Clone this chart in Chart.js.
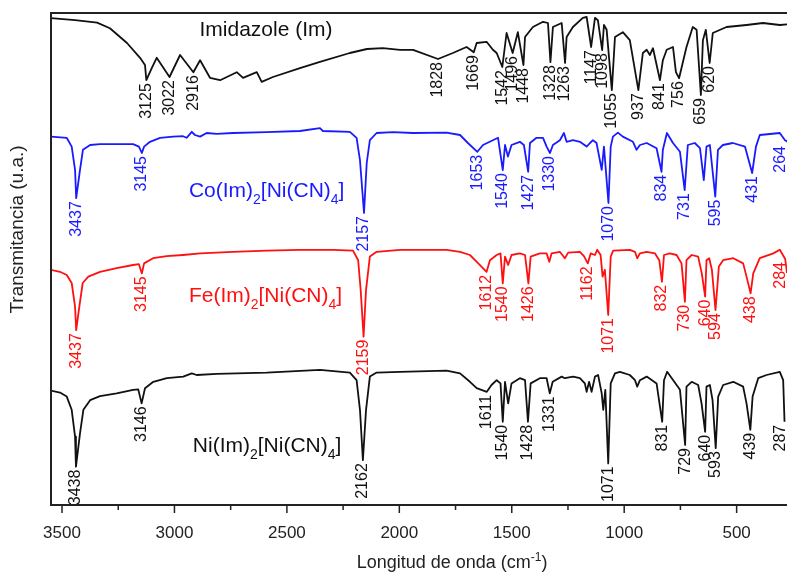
<!DOCTYPE html>
<html>
<head>
<meta charset="utf-8">
<title>FTIR</title>
<script src="https://cdn.jsdelivr.net/npm/chart.js@4.4.1/dist/chart.umd.min.js"></script>
<style>
  html, body { margin: 0; padding: 0; background: #fff; }
  #wrap { width: 787px; height: 572px; }
</style>
</head>
<body>
<div id="wrap"><canvas id="ir" width="787" height="572"></canvas></div>
<script>
// FTIR spectra: imidazole and the three M(Im)2[Ni(CN)4] compounds, stacked with offsets.
// Each trace is [wavenumber cm-1, transmittance a.u.]; the *Peaks lists hold the labelled minima.

const majorTicks = [3500, 3000, 2500, 2000, 1500, 1000, 500];
const minorTicks = [3250, 2750, 2250, 1750, 1250, 750];

const imTrace = [
  [3550,121.7],[3442,121.2],[3344,120.6],[3287,119.2],[3211,115.5],[3153,111.8],[3131,110],
  [3101,109.2],[3079,111.8],[2975,112.5],[2886,111.2],[2842,106.8],[2797,106.2],[2723,108.2],
  [2695,106.8],[2634,108.2],[2612,105.8],[2562,107],[2442,109.2],[2353,110.8],[2220,113],
  [2144,114],[2073,114.2],[1997,113.8],[1939,113.8],[1762,113],[1701,114.5],[1656,115.5],
  [1612,115.8],[1584,113.8],[1567,113],[1523,118],[1473,118.2],[1441,117],[1406,119.5],
  [1361,120.8],[1339,120.5],[1317,119.5],[1278,120.5],[1256,117],[1228,119.5],[1184,121.8],
  [1167,122],[1130,121.8],[1117,121.2],[1090,120],[1078,118.8],[1041,117],[1006,118.2],
  [975,116.2],[917,113],[900,113.8],[886,112.5],[872,114.2],[828,111.2],[811,113.8],[783,114.5],
  [770,108.2],[723,114.5],[695,119.5],[678,118.8],[650,116.2],[637,118.8],[606,118],[545,119.5],
  [456,120],[383,120.5],[308,120],[265,120.2]
];
const imPeaks = [
  [3125,106.2],[3022,107],[2916,108.2],[1828,111.5],[1669,113.2],[1542,109.5],[1496,113],
  [1448,110],[1328,110.7],[1263,110.5],[1147,114.5],[1098,113.7],[1055,103.7],[937,103.7],
  [841,106.2],[756,106.7],[659,102.5],[620,110.5]
];

const coTrace = [
  [3550,92.1],[3479,91.8],[3457,89.6],[3442,83.8],[3420,83.8],[3407,88.8],[3375,90],[3331,90.2],
  [3184,90.2],[3158,89.6],[3135,89.6],[3109,90.8],[3064,91.8],[3006,92.1],[2962,92.2],[2946,91.8],
  [2923,93.3],[2909,92.5],[2886,92.1],[2857,93],[2812,92.8],[2740,93],[2590,93.2],[2442,93.5],
  [2353,94.2],[2340,93.5],[2220,93.3],[2190,91.8],[2175,86.2],[2145,85.5],[2131,91.2],[2101,93],
  [2028,93.2],[1940,93],[1790,93.1],[1730,92.5],[1695,90.5],[1628,90],[1584,91.2],[1561,91.8],
  [1530,90],[1517,87.1],[1501,90],[1464,90.8],[1446,90],[1419,90.5],[1390,91.8],[1361,91.8],
  [1345,89.6],[1317,90],[1286,91.2],[1268,93],[1256,90.8],[1228,91.2],[1197,90.8],[1167,89.6],
  [1152,90.5],[1139,91.2],[1123,90.5],[1100,83.8],[1090,89.6],[1060,89.6],[1050,92.1],[1028,93.1],
  [1006,92.1],[961,90.8],[945,88.8],[930,90],[900,90.5],[856,89.2],[828,88.8],[810,93],[783,90.5],
  [752,88.3],[717,90],[686,90.5],[663,89.2],[646,81.2],[634,89.6],[619,90],[583,88.8],[561,90],
  [517,90.5],[463,89.6],[414,89.6],[397,92.5],[308,93],[285,91.2]
];
const coPeaks = [
  [3437,76.7],[3145,88],[2157,73],[1653,88.3],[1540,83.7],[1427,83.3],[1330,88],[1070,75.5],
  [834,83.3],[731,78.7],[595,77.1],[431,83],[264,90.5]
];

const feTrace = [
  [3550,58.8],[3509,58.3],[3479,57.5],[3457,55.5],[3442,49.6],[3423,49.6],[3408,55.5],[3383,57.1],
  [3331,58.3],[3257,59.2],[3184,60],[3158,60.2],[3135,60.4],[3095,61.7],[3034,62.2],[2962,62.5],
  [2886,62.9],[2740,63.3],[2590,63.6],[2442,63.8],[2295,63.8],[2206,63.6],[2183,61.2],[2172,53.8],
  [2148,53.8],[2131,62.1],[2101,63.3],[1997,63.8],[1790,63.8],[1730,63.3],[1686,62.5],[1649,60.4],
  [1597,61.2],[1567,62.5],[1550,62.9],[1530,62.1],[1516,60],[1501,62.5],[1464,62.9],[1441,62.5],
  [1416,62.1],[1375,62.9],[1345,62.9],[1333,60.8],[1323,62.9],[1286,63.3],[1264,61.7],[1249,63.1],
  [1197,63.3],[1179,62.2],[1149,62.9],[1130,62.5],[1120,63.8],[1105,62.5],[1096,57.1],[1086,58.8],
  [1060,62.1],[1049,63.6],[975,63.8],[952,63.3],[942,61.7],[930,62.9],[900,63.3],[863,62.9],
  [844,61.2],[823,62.5],[797,62.9],[767,62.5],[745,60.4],[723,61.2],[700,62.5],[671,62.1],
  [655,57.9],[634,61.2],[622,61.7],[610,58.8],[579,59.6],[560,61.2],[515,61.7],[471,60.4],
  [456,57.1],[426,57.9],[397,61.7],[337,62.9],[308,63.8],[276,58]
];
const fePeaks = [
  [3437,43.7],[3145,57.9],[2159,42.1],[1612,58.3],[1540,55.4],[1426,55.4],[1162,60.4],[1071,47.5],
  [832,55.8],[730,50.8],[640,52.1],[594,48.7],[438,52.9],[284,61.5]
];

const niTrace = [
  [3550,28.6],[3509,28.1],[3479,27.1],[3457,23.8],[3442,17.1],[3420,17.9],[3405,23.8],[3375,26.2],
  [3331,27.2],[3257,27.9],[3184,28.8],[3161,28.9],[3131,29.2],[3094,30.8],[3034,31.7],[2961,32.1],
  [2923,32.9],[2901,32.5],[2812,32.8],[2590,33.1],[2353,33.8],[2220,33.1],[2190,31.2],[2175,23.8],
  [2148,23.8],[2131,32.1],[2101,33.1],[1997,33.3],[1790,33.6],[1730,32.9],[1686,30.8],[1656,29.2],
  [1590,30],[1567,31.2],[1550,30.4],[1530,30.8],[1516,25.4],[1501,30.4],[1464,31.7],[1441,31.2],
  [1416,30.4],[1375,31.7],[1345,31.7],[1318,30.8],[1278,32.1],[1264,31.7],[1227,32.1],[1197,31.7],
  [1175,30.4],[1167,28.3],[1156,30.8],[1145,28.3],[1130,32.1],[1116,32.5],[1100,27.9],[1093,23.8],
  [1084,28.8],[1060,30.4],[1041,32.9],[1019,33.3],[975,32.5],[952,31.2],[942,29.6],[930,31.2],
  [900,32.1],[856,30.4],[823,31.2],[809,33.3],[782,31.2],[752,28.8],[723,29.6],[700,30.8],[671,30],
  [656,25.4],[634,29.6],[619,30],[607,26.2],[582,27.1],[560,30],[515,30.8],[471,29.6],[456,25.4],
  [429,27.1],[404,31.7],[367,32.5],[308,33.3],[293,31.2]
];
const niPeaks = [
  [3438,9.6],[3146,25.4],[2162,11.2],[1611,28.3],[1540,20.8],[1428,20.8],[1331,27.9],[1071,10.4],
  [831,20.8],[729,15],[640,18.3],[593,14.2],[439,18.8],[287,20.8]
];

const FONT = '"Liberation Sans", Arial, sans-serif';

// name parts: [text, 1 = subscript]; nameAt = [centre wavenumber, baseline value]
const spectra = [
  { color: '#111111', trace: imTrace, peaks: imPeaks, nameAt: [2593, 117.2],
    name: [['Imidazole (Im)', 0]] },
  { color: '#1a1aff', trace: coTrace, peaks: coPeaks, nameAt: [2590, 77.1],
    name: [['Co(Im)', 0], ['2', 1], ['[Ni(CN)', 0], ['4', 1], [']', 0]] },
  { color: '#ff1010', trace: feTrace, peaks: fePeaks, nameAt: [2595, 50.8],
    name: [['Fe(Im)', 0], ['2', 1], ['[Ni(CN)', 0], ['4', 1], [']', 0]] },
  { color: '#111111', trace: niTrace, peaks: niPeaks, nameAt: [2588, 13.3],
    name: [['Ni(Im)', 0], ['2', 1], ['[Ni(CN)', 0], ['4', 1], [']', 0]] }
];

function drawParts(ctx, parts, cx, baseline, size, subSize, shift) {
  let total = 0;
  parts.forEach(([t, s]) => {
    ctx.font = `${s ? subSize : size}px ${FONT}`;
    total += ctx.measureText(t).width;
  });
  let xPos = cx - total / 2;
  parts.forEach(([t, s]) => {
    ctx.font = `${s ? subSize : size}px ${FONT}`;
    ctx.fillText(t, xPos, baseline + (s ? shift : 0));
    xPos += ctx.measureText(t).width;
  });
}

const irDecor = {
  id: 'irDecor',
  afterDatasetsDraw(chart) {
    const { ctx, chartArea: a, scales: { x, y } } = chart;

    // rotated peak labels hanging under each minimum
    ctx.save();
    ctx.beginPath();
    ctx.rect(a.left, a.top, a.right - a.left, a.bottom - a.top);
    ctx.clip();
    ctx.font = `16px ${FONT}`;
    ctx.textAlign = 'right';
    ctx.textBaseline = 'middle';
    spectra.forEach(s => {
      ctx.fillStyle = s.color;
      s.peaks.forEach(([w, v]) => {
        const px = Math.min(x.getPixelForValue(w), a.right - 6);
        const py = y.getPixelForValue(v) + 3;
        ctx.save();
        ctx.translate(px, py);
        ctx.rotate(-Math.PI / 2);
        ctx.fillText(String(w), 0, 0);
        ctx.restore();
      });
    });
    ctx.restore();

    // compound names
    ctx.save();
    ctx.textAlign = 'left';
    ctx.textBaseline = 'alphabetic';
    spectra.forEach(s => {
      ctx.fillStyle = s.color;
      drawParts(ctx, s.name, x.getPixelForValue(s.nameAt[0]), y.getPixelForValue(s.nameAt[1]), 21, 14, 7);
    });
    ctx.restore();
  },
  afterDraw(chart) {
    const { ctx, chartArea: a, scales: { x } } = chart;
    ctx.save();
    ctx.strokeStyle = '#222';
    ctx.lineWidth = 2;
    ctx.beginPath();
    ctx.moveTo(a.right + 2, a.top);
    ctx.lineTo(a.left, a.top);
    ctx.lineTo(a.left, a.bottom);
    ctx.lineTo(a.right + 2, a.bottom);
    ctx.stroke();

    // outward ticks, long for labelled values
    ctx.lineWidth = 1.5;
    ctx.beginPath();
    majorTicks.concat(minorTicks).forEach(v => {
      const px = x.getPixelForValue(v);
      const len = majorTicks.includes(v) ? 8 : 5;
      ctx.moveTo(px, a.bottom);
      ctx.lineTo(px, a.bottom + len);
    });
    ctx.stroke();

    // axis titles
    ctx.fillStyle = '#222';
    ctx.textAlign = 'left';
    ctx.textBaseline = 'alphabetic';
    drawParts(ctx, [['Longitud de onda (cm', 0], ['-1', 1], [')', 0]],
      a.left + (a.right - a.left) * 0.545, 568, 18, 12, -7);

    ctx.translate(18, a.top + (a.bottom - a.top) * 0.44);
    ctx.rotate(-Math.PI / 2);
    ctx.font = `19px ${FONT}`;
    ctx.textAlign = 'center';
    ctx.textBaseline = 'middle';
    ctx.fillText('Transmitancia (u.a.)', 0, 0);
    ctx.restore();
  }
};

const datasets = spectra.map(s => ({
  data: s.trace.concat(s.peaks)
    .map(([w, v]) => ({ x: w, y: v }))
    .sort((p, q) => q.x - p.x),
  borderColor: s.color,
  borderWidth: 1.8,
  borderJoinStyle: 'round',
  pointRadius: 0,
  tension: 0,
  fill: false
}));

new Chart(document.getElementById('ir'), {
  type: 'line',
  data: { datasets },
  options: {
    responsive: false,
    animation: false,
    layout: { padding: { left: 51, top: 13, right: 0, bottom: 0 } },
    plugins: { legend: { display: false }, tooltip: { enabled: false } },
    scales: {
      x: {
        type: 'linear',
        reverse: true,
        min: 276,
        max: 3549,
        border: { display: false },
        grid: { display: false, drawTicks: true, tickLength: 8 },
        afterBuildTicks(scale) {
          scale.ticks = majorTicks.map(v => ({ value: v }));
        },
        afterFit(scale) { scale.height = 67; },
        ticks: {
          autoSkip: false,
          maxRotation: 0,
          padding: 10,
          color: '#222',
          font: { family: FONT, size: 17 },
          callback: v => String(v)
        }
      },
      y: { display: false, min: 0, max: 123 }
    }
  },
  plugins: [irDecor]
});
</script>
</body>
</html>
